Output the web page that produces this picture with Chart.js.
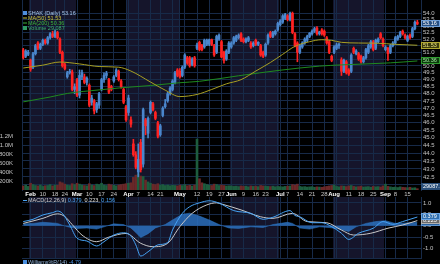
<!DOCTYPE html>
<html>
<head>
<meta charset="utf-8">
<script src="https://cdn.jsdelivr.net/npm/chart.js@4.4.1/dist/chart.umd.min.js"></script>
<style>
  html, body { margin: 0; padding: 0; background: #000; }
  #wrap { position: relative; width: 440px; height: 264px; overflow: hidden; background: #000; }
  canvas { position: absolute; left: 0; }
  #price { top: 0; width: 440px; height: 197px; }
  #macd { top: 197px; width: 440px; height: 67px; }
</style>
</head>
<body>
<div id="wrap">
  <canvas id="price" width="440" height="197"></canvas>
  <canvas id="macd" width="440" height="67"></canvas>
</div>
<script>
const FONT = "'Liberation Sans', Arial, sans-serif";
const GRID = '#172a48';
const SHADE = '#15152b';
const UP = '#4a86cc';
const DOWN = '#ff2222';

// trading days Jan 29 - Sep 19 2025 (plus one empty slot on the right)
const holidays = ['2/17', '4/18', '5/26', '6/19', '7/4', '9/1'];
const dayLabels = [];
for (let d = new Date(2025, 0, 29); d <= new Date(2025, 8, 22); d.setDate(d.getDate() + 1)) {
    const key = (d.getMonth() + 1) + '/' + d.getDate();
    if (d.getDay() === 0 || d.getDay() === 6 || holidays.includes(key)) continue;
    dayLabels.push(key);
}

// x axis labels
const tickDates = ['2/3', '2/10', '2/18', '2/24', '3/3', '3/10', '3/17', '3/24', '4/1', '4/7', '4/14', '4/21',
    '5/1', '5/12', '5/19', '5/27', '6/2', '6/9', '6/16', '6/23', '7/1', '7/7', '7/14', '7/21', '7/28',
    '8/1', '8/11', '8/18', '8/25', '9/2', '9/8', '9/15'];
const tickTexts = ['Feb', '10', '18', '24', 'Mar', '10', '17', '24', 'Apr', '7', '14', '21',
    'May', '12', '19', '27', 'Jun', '9', '16', '23', 'Jul', '7', '14', '21', '28',
    'Aug', '11', '18', '25', 'Sep', '8', '15'];
const unlabeledWeeks = ['3/31', '4/28', '5/5', '6/30', '8/4'];
const MONTHS = ['Feb', 'Mar', 'Apr', 'May', 'Jun', 'Jul', 'Aug', 'Sep'];

const priceTicks = [42.0, 42.5, 43.0, 43.5, 44.0, 44.5, 45.0, 45.5, 46.0, 46.5, 47.0, 47.5, 48.0,
    48.5, 49.0, 49.5, 50.0, 50.5, 51.0, 51.5, 52.0, 52.5, 53.0, 53.5, 54.0];
const volTicks = [200, 400, 600, 800, 1000, 1200]; // thousands
const macdTicks = [-1.0, -0.5, 0.0, 0.5, 1.0];

// daily candles
const opens = [
    51.18, 50.70, 50.85, 50.43, 49.90, 50.90, 51.70, 51.30, 51.60, 51.90,
    51.70, 52.10, 52.40, 52.20, 52.50, 52.00, 51.00, 50.10, 49.20, 49.50,
    49.55, 48.30, 49.00, 47.90, 49.20, 49.20, 48.80, 48.60, 47.40, 47.50,
    46.90, 47.20, 48.30, 49.00, 49.30, 49.00, 48.50, 48.90, 49.30, 49.60,
    48.90, 48.30, 47.10, 46.70, 46.20, 44.60, 43.90, 42.80, 44.70, 43.30,
    46.20, 45.30, 46.70, 47.30, 46.70, 46.00, 45.20, 46.50, 47.10, 47.50,
    48.00, 48.30, 48.80, 49.70, 49.60, 49.30, 49.90, 50.60, 50.60, 50.10,
    50.60, 51.30, 51.75, 51.50, 51.40, 51.60, 51.60, 51.95, 51.50, 51.00,
    52.00, 51.80, 51.00, 50.50, 51.00, 51.40, 51.70, 51.90, 52.10, 52.40,
    52.00, 51.80, 51.90, 51.70, 51.50, 51.90, 51.60, 51.50, 51.00, 50.80,
    51.70, 52.50, 52.20, 52.40, 52.70, 53.10, 53.30, 53.60, 53.80, 53.50,
    54.00, 52.40, 51.70, 51.00, 51.40, 51.70, 51.90, 52.20, 52.40, 52.60,
    52.85, 52.40, 52.70, 52.60, 52.10, 51.80, 50.70, 51.00, 51.30, 51.50,
    50.45, 49.60, 50.30, 49.70, 49.60, 51.30, 50.90, 50.90, 50.70, 50.30,
    50.60, 51.00, 51.40, 51.80, 51.30, 51.80, 52.40, 52.00, 51.20, 51.30,
    51.00, 51.50, 51.70, 52.00, 52.20, 52.60, 52.30, 51.90, 52.30, 52.20,
    52.80, 53.30];
const highs = [
    51.30, 51.20, 51.15, 50.50, 51.00, 51.60, 51.80, 51.70, 52.00, 52.00,
    52.20, 52.50, 52.60, 52.70, 52.60, 52.10, 51.10, 50.20, 49.60, 49.75,
    49.70, 48.70, 49.10, 49.70, 49.70, 49.40, 49.20, 48.70, 47.90, 47.60,
    47.40, 48.10, 49.10, 49.50, 49.60, 49.10, 48.60, 49.30, 49.80, 49.70,
    49.00, 48.40, 47.20, 47.90, 46.40, 44.90, 44.10, 44.60, 44.90, 47.00,
    46.30, 46.40, 47.50, 47.40, 46.80, 46.10, 45.90, 47.10, 47.60, 48.10,
    48.50, 49.00, 49.60, 49.80, 49.80, 50.00, 50.90, 50.70, 50.70, 50.60,
    50.70, 51.70, 51.85, 51.60, 52.00, 52.00, 52.00, 52.00, 51.60, 52.30,
    52.40, 51.90, 51.10, 51.20, 51.80, 51.80, 52.20, 52.30, 52.40, 52.50,
    52.10, 52.10, 52.20, 51.80, 51.80, 52.00, 51.80, 51.60, 51.10, 51.70,
    52.40, 52.60, 52.60, 52.70, 53.30, 53.50, 53.90, 54.00, 53.90, 54.10,
    54.10, 52.50, 51.80, 51.60, 51.80, 52.10, 52.30, 52.50, 52.70, 52.90,
    52.95, 52.60, 52.80, 52.70, 52.20, 51.90, 50.80, 51.50, 51.70, 51.70,
    50.60, 50.50, 50.40, 49.80, 50.90, 51.40, 51.20, 51.00, 50.80, 50.70,
    51.30, 51.60, 51.90, 51.90, 52.00, 52.10, 52.50, 52.10, 51.50, 51.40,
    51.60, 51.80, 52.20, 52.30, 52.60, 52.70, 52.40, 52.30, 52.40, 52.90,
    53.40, 53.45];
const lows = [
    50.50, 50.60, 50.75, 49.60, 49.80, 50.80, 51.20, 51.20, 51.50, 51.60,
    51.60, 52.00, 52.10, 52.10, 52.00, 50.90, 49.90, 49.70, 49.10, 49.40,
    48.20, 48.00, 47.80, 47.70, 49.00, 48.70, 48.60, 47.10, 47.20, 46.60,
    46.70, 47.00, 48.20, 48.80, 49.10, 48.00, 48.20, 48.80, 49.20, 48.90,
    48.40, 47.30, 46.10, 46.50, 45.70, 43.80, 43.00, 42.50, 42.80, 43.10,
    45.20, 45.00, 46.60, 46.80, 46.20, 45.00, 45.10, 46.40, 47.00, 47.40,
    47.90, 48.20, 48.70, 49.20, 49.10, 49.20, 49.80, 50.10, 49.90, 50.00,
    49.90, 51.20, 51.10, 51.10, 51.30, 51.50, 51.50, 51.50, 50.70, 50.90,
    51.90, 50.60, 50.20, 50.40, 50.90, 51.30, 51.60, 51.80, 52.00, 51.80,
    51.70, 51.70, 51.80, 51.30, 51.40, 51.50, 51.50, 50.70, 50.60, 50.70,
    51.60, 52.10, 52.10, 52.30, 52.60, 53.00, 53.20, 53.50, 53.40, 53.40,
    52.40, 51.40, 50.30, 50.90, 51.30, 51.60, 51.80, 52.10, 52.30, 52.50,
    52.30, 52.30, 52.30, 52.20, 51.60, 50.90, 50.30, 50.90, 51.20, 51.30,
    49.30, 49.50, 49.40, 49.30, 49.50, 50.90, 50.80, 50.40, 50.20, 50.20,
    50.50, 50.90, 51.30, 51.10, 51.20, 51.70, 52.00, 51.40, 51.10, 50.40,
    50.90, 51.40, 51.60, 51.90, 52.10, 52.30, 52.00, 51.80, 52.00, 52.10,
    52.70, 53.10];
const closes = [
    50.60, 51.10, 51.00, 49.75, 50.90, 51.50, 51.30, 51.60, 51.90, 51.70,
    52.10, 52.40, 52.20, 52.55, 52.10, 51.00, 50.00, 49.80, 49.50, 49.60,
    48.30, 48.50, 47.90, 49.30, 49.50, 48.80, 49.10, 47.20, 47.70, 46.80,
    47.30, 48.00, 49.00, 49.30, 49.45, 48.10, 48.30, 49.20, 49.70, 49.00,
    48.50, 47.40, 46.20, 47.70, 45.90, 43.90, 43.10, 43.60, 42.95, 46.90,
    45.80, 46.30, 47.40, 46.90, 46.30, 45.10, 45.80, 47.00, 47.30, 48.00,
    48.40, 48.90, 49.50, 49.30, 49.20, 49.90, 50.80, 50.20, 50.00, 50.50,
    50.00, 51.55, 51.20, 51.20, 51.90, 51.90, 51.95, 51.60, 50.80, 52.20,
    52.30, 50.65, 50.40, 51.10, 51.70, 51.70, 52.10, 52.20, 52.30, 51.90,
    51.80, 52.00, 52.10, 51.40, 51.70, 51.60, 51.75, 50.80, 50.70, 51.60,
    52.30, 52.20, 52.50, 52.60, 53.20, 53.40, 53.80, 53.90, 53.50, 54.00,
    52.50, 51.50, 51.00, 51.50, 51.70, 52.00, 52.20, 52.45, 52.60, 52.80,
    52.40, 52.55, 52.40, 52.30, 51.70, 51.00, 50.40, 51.40, 51.55, 51.60,
    49.60, 50.40, 49.50, 49.40, 50.80, 51.00, 51.10, 50.50, 50.30, 50.60,
    51.20, 51.50, 51.80, 51.20, 51.90, 52.00, 52.10, 51.50, 51.40, 50.90,
    51.50, 51.70, 52.10, 52.20, 52.50, 52.40, 52.10, 52.20, 52.10, 52.80,
    53.30, 53.16];
// volume in thousands of shares
const volumes = [
    90, 110, 80, 150, 120, 100, 90, 110, 80, 95,
    100, 120, 90, 110, 105, 180, 160, 130, 110, 100,
    140, 120, 150, 130, 110, 100, 95, 140, 110, 100,
    130, 120, 150, 110, 100, 130, 115, 105, 95, 110,
    120, 130, 140, 150, 160, 280, 330, 360, 310, 300,
    220, 180, 150, 130, 120, 140, 110, 120, 100, 110,
    95, 105, 100, 90, 110, 100, 120, 95, 105, 90,
    110, 1130, 250, 160, 140, 120, 110, 100, 130, 120,
    100, 110, 100, 90, 95, 90, 80, 85, 75, 90,
    80, 85, 70, 90, 80, 85, 75, 100, 90, 85,
    80, 75, 85, 70, 80, 75, 70, 80, 85, 90,
    120, 110, 130, 80, 70, 75, 65, 70, 75, 60,
    70, 65, 60, 70, 80, 90, 100, 110, 80, 70,
    90, 85, 75, 90, 100, 80, 70, 75, 85, 65,
    70, 75, 60, 80, 70, 75, 65, 90, 130, 80,
    70, 60, 65, 55, 70, 60, 55, 50, 60, 45,
    50, 29.087];

// moving averages, read at selected dates
const ma50Days = ['1/29', '2/10', '2/20', '3/4', '3/14', '3/26', '4/2', '4/14', '4/23', '5/1', '5/12', '5/20', '5/29',
    '6/6', '6/16', '6/25', '7/2', '7/10', '7/18', '7/25', '7/31', '8/6', '8/15', '8/27', '9/8', '9/19'];
const ma50Values = [49.84, 50.05, 50.28, 50.14, 49.95, 49.90, 49.62, 48.83, 48.25, 47.80, 47.95, 48.30, 48.70,
    49.00, 49.62, 50.25, 50.85, 51.45, 51.80, 51.95, 51.90, 51.75, 51.70, 51.68, 51.60, 51.53];
const ma200Days = ['1/29', '2/13', '2/25', '3/14', '3/27', '4/14', '5/1', '5/13', '6/5', '7/1', '7/24', '8/6', '9/4', '9/19'];
const ma200Values = [47.43, 47.77, 48.02, 48.27, 48.42, 48.58, 48.78, 48.88, 49.28, 49.68, 49.98, 50.07, 50.22, 50.36];

// MACD(12,26,9)
const macdDays = ['1/29', '2/4', '2/10', '2/14', '2/19', '2/21', '2/26', '3/3', '3/7', '3/13', '3/18', '3/24', '3/28',
    '4/2', '4/4', '4/8', '4/11', '4/17', '4/24', '4/28', '5/2', '5/7', '5/13', '5/19', '5/23', '6/3', '6/12',
    '6/20', '6/26', '7/8', '7/10', '7/14', '7/21', '7/25', '7/31', '8/6', '8/11', '8/15', '8/25', '8/29',
    '9/5', '9/11', '9/16', '9/19'];
const macdValues = [0.18, 0.28, 0.47, 0.57, 0.64, 0.54, 0.03, -0.55, -0.67, -0.89, -0.70, -0.41, -0.31,
    -0.45, -0.84, -1.33, -1.14, -0.84, -0.74, -0.19, 0.54, 0.83, 1.00, 1.09, 0.99, 0.66, 0.54,
    0.28, 0.37, 0.66, 0.45, 0.39, 0.13, 0.13, -0.04, -0.33, -0.60, -0.33, -0.11, 0.18,
    0.06, 0.18, 0.28, 0.379];
const signalDays = ['1/29', '2/10', '2/19', '2/24', '2/27', '3/5', '3/13', '3/20', '3/31', '4/8', '4/15', '4/24',
    '5/1', '5/8', '5/16', '5/22', '5/27', '6/6', '6/18', '6/26', '7/9', '7/17', '7/29', '8/6', '8/13',
    '8/22', '9/3', '9/11', '9/19'];
const signalValues = [0.10, 0.32, 0.52, 0.40, 0.05, -0.41, -0.70, -0.50, -0.34, -0.77, -0.92, -0.77,
    -0.04, 0.54, 0.91, 1.00, 0.95, 0.69, 0.39, 0.32, 0.54, 0.18, 0.13, -0.19, -0.41,
    -0.33, -0.11, 0.03, 0.223];
const histDays = ['1/29', '2/4', '2/10', '2/14', '2/19', '2/21', '2/26', '3/3', '3/7', '3/13', '3/18', '3/24',
    '3/28', '4/2', '4/4', '4/8', '4/11', '4/16', '4/23', '4/28', '5/2', '5/7', '5/13', '5/19', '5/23',
    '5/30', '6/5', '6/12', '6/20', '6/26', '7/7', '7/9', '7/14', '7/18', '7/24', '7/30', '8/5', '8/11',
    '8/14', '8/20', '8/26', '9/2', '9/8', '9/12', '9/19'];
const histValues = [0.08, 0.10, 0.15, 0.12, 0.10, 0.02, -0.07, -0.12, -0.10, -0.15, -0.05, 0.08,
    0.05, -0.10, -0.30, -0.52, -0.35, -0.10, 0.05, 0.25, 0.50, 0.55, 0.42, 0.25, 0.05,
    -0.10, -0.12, -0.05, -0.08, 0.05, 0.15, 0.10, -0.10, -0.15, -0.05, -0.08, -0.15, -0.25,
    -0.05, 0.10, 0.18, 0.22, 0.10, 0.12, 0.156];
const williamsLast = -4.79;

const tickMap = new Map(tickDates.map((d, i) => [d, tickTexts[i]]));
const weekLines = new Set([...tickDates, ...unlabeledWeeks]);
const points = (days, vals) => days.map((d, i) => ({ x: d, y: vals[i] }));
const isUp = closes.map((c, i) => c >= opens[i]);
const candleColors = isUp.map(u => u ? UP : DOWN);
const last = arr => arr[arr.length - 1];

// keep axes at fixed sizes so both panels line up
const fixed = (w, h) => s => {
    if (w !== undefined) s.width = w;
    if (h !== undefined) s.height = h;
    s.paddingTop = s.paddingBottom = s.paddingLeft = s.paddingRight = 0;
};
const gridColor = c => weekLines.has(dayLabels[c.index]) ? GRID : 'rgba(0,0,0,0)';
const monthOf = d => +d.split('/')[0];

const background = {
    id: 'background',
    beforeDraw(chart) {
        const { ctx, chartArea: a, scales: { x } } = chart;
        ctx.save();
        ctx.fillStyle = '#000';
        ctx.fillRect(0, 0, chart.width, chart.height);
        const half = x.width / dayLabels.length / 2;
        ctx.fillStyle = SHADE;
        let start = null;
        dayLabels.forEach((d, i) => {
            if (monthOf(d) % 2 !== 0) return;
            if (start === null) start = i;
            const next = dayLabels[i + 1];
            if (!next || monthOf(next) !== monthOf(d)) {
                const x0 = Math.round(x.getPixelForValue(start) - half);
                const x1 = Math.round(x.getPixelForValue(i) + half);
                ctx.fillRect(x0, a.top, x1 - x0, a.bottom - a.top);
                start = null;
            }
        });
        ctx.restore();
    }
};

function legendRow(ctx, x, y, icon, color, parts) {
    ctx.fillStyle = color;
    if (icon === 'box') ctx.fillRect(x, y - 2, 4, 4);
    else ctx.fillRect(x, y - 0.5, 4, 1);
    let cx = x + 5;
    parts.forEach(([text, col]) => {
        ctx.fillStyle = col;
        ctx.fillText(text, cx, y);
        cx += ctx.measureText(text + ' ').width;
    });
}

function tag(ctx, left, y, text, fill, stroke, color) {
    const top = Math.round(y - 3.5);
    ctx.fillStyle = fill;
    ctx.fillRect(left, top, 440 - left, 7);
    if (stroke) {
        ctx.strokeStyle = stroke;
        ctx.lineWidth = 1;
        ctx.strokeRect(left + 0.5, top + 0.5, 440 - left - 1, 6);
    }
    ctx.fillStyle = color;
    ctx.fillText(text, left + 2, top + 3.6);
}

const priceOverlay = {
    id: 'priceOverlay',
    afterDraw(chart) {
        const { ctx, scales: { price, vol } } = chart;
        ctx.save();
        ctx.font = '5.5px ' + FONT;
        ctx.textBaseline = 'middle';
        legendRow(ctx, 23, 13, 'box', '#4f8fdc', [['SHAK (Daily) ' + last(closes).toFixed(2), '#a9c7ec']]);
        legendRow(ctx, 23, 18, 'line', '#c8c03a', [['MA(50) ' + last(ma50Values).toFixed(2), '#c8c03a']]);
        legendRow(ctx, 23, 23, 'line', '#3cb43c', [['MA(200) ' + last(ma200Values).toFixed(2), '#3cb43c']]);
        legendRow(ctx, 23, 28, 'box', '#2f9a62',
            [['Volume ' + Math.round(last(volumes) * 1000).toLocaleString('en-US'), '#3cb070']]);
        const left = price.left;
        tag(ctx, left, price.getPixelForValue(last(ma200Values)), last(ma200Values).toFixed(2), '#0c3a0c', '#2e9a2e', '#a0e8a0');
        tag(ctx, left, price.getPixelForValue(last(ma50Values)), last(ma50Values).toFixed(2), '#3d3d0c', '#b0a830', '#eee480');
        tag(ctx, left, price.getPixelForValue(last(closes)), last(closes).toFixed(2), '#274f82', '#6f9fd8', '#ffffff');
        tag(ctx, left, vol.getPixelForValue(last(volumes)) - 2, (last(volumes) * 1000).toFixed(1), '#2a4f7a', null, '#ffffff');
        ctx.restore();
    }
};

const macdOverlay = {
    id: 'macdOverlay',
    afterDraw(chart) {
        const { ctx, chartArea: a, scales: { y } } = chart;
        ctx.save();
        ctx.font = '5.5px ' + FONT;
        ctx.textBaseline = 'middle';
        legendRow(ctx, 23, a.top + 3.5, 'line', '#4aa3f2', [['MACD(12,26,9)', '#cfcfcf'],
            [last(macdValues).toFixed(3) + ',', '#4aa3f2'], [last(signalValues).toFixed(3) + ',', '#e6e6e6'],
            [last(histValues).toFixed(3), '#4aa3f2']]);
        legendRow(ctx, 23, a.bottom + 4, 'box', '#4a8fe0', [['Williams%R(14)', '#8fb0d8'], [williamsLast.toFixed(2), '#4a8fe0']]);
        tag(ctx, y.left, y.getPixelForValue(last(histValues)), last(histValues).toFixed(3), '#2a5f9a', '#5f95d0', '#ffffff');
        tag(ctx, y.left, y.getPixelForValue(last(signalValues)), last(signalValues).toFixed(3), '#6a6a6a', '#b0b0b0', '#ffffff');
        tag(ctx, y.left, y.getPixelForValue(last(macdValues)) - 1, last(macdValues).toFixed(3), '#2f6fb0', '#6aa5e5', '#ffffff');
        ctx.restore();
    }
};

const tickFont = { family: FONT, size: 6 };
const isMonthTick = c => c.tick && MONTHS.includes(c.tick.label);

new Chart(document.getElementById('price'), {
    type: 'bar',
    data: {
        labels: dayLabels,
        datasets: [
            {
                type: 'line', label: 'MA(50)', data: points(ma50Days, ma50Values), yAxisID: 'price',
                borderColor: '#a89f22', borderWidth: 1, pointRadius: 0, cubicInterpolationMode: 'monotone', order: 1
            },
            {
                type: 'line', label: 'MA(200)', data: points(ma200Days, ma200Values), yAxisID: 'price',
                borderColor: '#1f8a1f', borderWidth: 1, pointRadius: 0, cubicInterpolationMode: 'monotone', order: 1
            },
            {
                label: 'body', data: opens.map((o, i) => [o, closes[i]]), yAxisID: 'price',
                backgroundColor: candleColors, barThickness: 2, minBarLength: 1, grouped: false, order: 2
            },
            {
                label: 'wick', data: lows.map((l, i) => [l, highs[i]]), yAxisID: 'price',
                backgroundColor: candleColors, barThickness: 1, grouped: false, order: 3
            },
            {
                label: 'Volume', data: volumes, yAxisID: 'vol',
                backgroundColor: isUp.map(u => u ? '#1d5c3d' : '#6a2828'), barThickness: 2, grouped: false, order: 4
            }
        ]
    },
    options: {
        responsive: false,
        animation: false,
        devicePixelRatio: 1,
        events: [],
        layout: { padding: 0 },
        plugins: { legend: { display: false }, tooltip: { enabled: false } },
        scales: {
            x: {
                offset: true,
                afterFit: fixed(undefined, 7),
                grid: { color: gridColor, offset: false, drawTicks: false },
                border: { display: false },
                ticks: {
                    autoSkip: false, maxRotation: 0, padding: 1,
                    callback: (v, i) => tickMap.get(dayLabels[i]) || '',
                    font: c => ({ family: FONT, size: 6, weight: isMonthTick(c) ? 'bold' : 'normal' }),
                    color: c => isMonthTick(c) ? '#ffffff' : '#c4c4c4'
                }
            },
            price: {
                type: 'logarithmic', position: 'right', min: 41.69, max: 55.06, bounds: 'data',
                afterBuildTicks: s => { s.ticks = priceTicks.map(v => ({ value: v })); },
                afterFit: fixed(19),
                grid: { color: GRID, drawTicks: false },
                border: { color: GRID },
                ticks: { autoSkip: false, padding: 2, font: tickFont, color: '#c4c4c4', callback: v => v.toFixed(1) }
            },
            vol: {
                position: 'left', min: 0, max: 4216,
                afterBuildTicks: s => { s.ticks = volTicks.map(v => ({ value: v })); },
                afterFit: fixed(22),
                grid: { display: false },
                border: { color: GRID },
                ticks: {
                    autoSkip: false, padding: 1, font: tickFont, color: '#c4c4c4',
                    callback: v => v >= 1000 ? (v / 1000).toFixed(1) + 'M' : v + 'K'
                }
            }
        }
    },
    plugins: [background, priceOverlay]
});

new Chart(document.getElementById('macd'), {
    type: 'line',
    data: {
        labels: dayLabels,
        datasets: [
            {
                label: 'MACD', data: points(macdDays, macdValues), borderColor: '#47a3f5', borderWidth: 1,
                pointRadius: 0, cubicInterpolationMode: 'monotone', order: 1
            },
            {
                label: 'Signal', data: points(signalDays, signalValues), borderColor: '#c8c8c8', borderWidth: 1,
                pointRadius: 0, cubicInterpolationMode: 'monotone', order: 2
            },
            {
                label: 'Histogram', data: points(histDays, histValues), borderColor: '#2f78c4', borderWidth: 0.5,
                backgroundColor: 'rgba(44,112,190,0.85)', fill: 'origin', pointRadius: 0, tension: 0, order: 3
            }
        ]
    },
    options: {
        responsive: false,
        animation: false,
        devicePixelRatio: 1,
        events: [],
        layout: { padding: { left: 22, bottom: 6 } },
        plugins: { legend: { display: false }, tooltip: { enabled: false } },
        scales: {
            x: {
                offset: true,
                afterFit: fixed(undefined, 0),
                grid: { color: gridColor, offset: false, drawTicks: false },
                border: { color: GRID },
                ticks: { display: false, autoSkip: false }
            },
            y: {
                position: 'right', min: -1.414, max: 1.256,
                afterBuildTicks: s => { s.ticks = macdTicks.map(v => ({ value: v })); },
                afterFit: fixed(19),
                grid: { color: GRID, drawTicks: false },
                border: { color: GRID },
                ticks: { autoSkip: false, padding: 2, font: tickFont, color: '#c4c4c4', callback: v => v.toFixed(1) }
            }
        }
    },
    plugins: [background, macdOverlay]
});
</script>
</body>
</html>
